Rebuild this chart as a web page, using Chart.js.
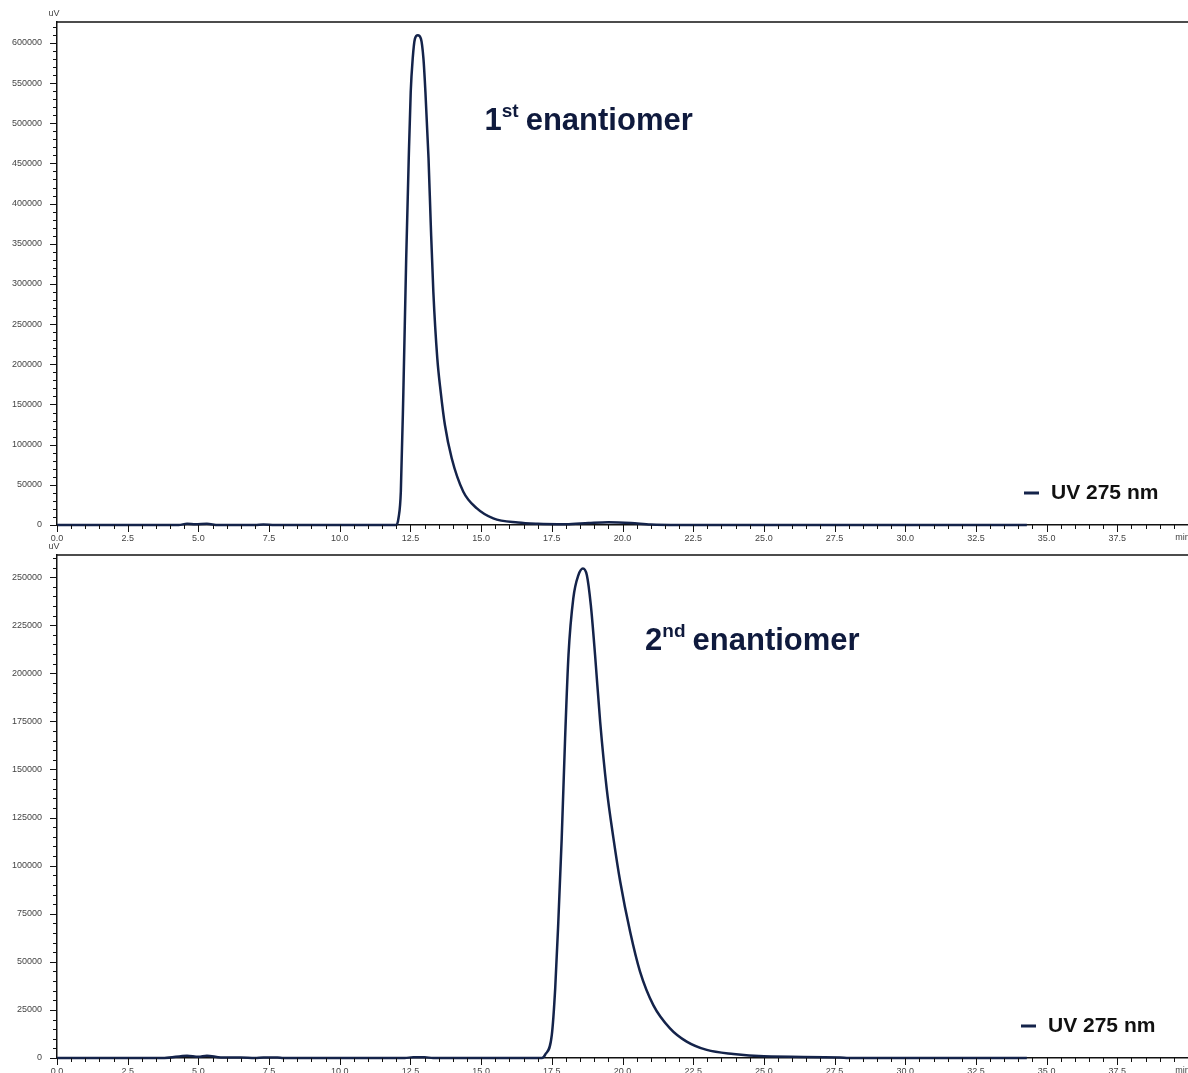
<!DOCTYPE html>
<html>
<head>
<meta charset="utf-8">
<script src="https://cdn.jsdelivr.net/npm/chart.js@4.4.1/dist/chart.umd.min.js"></script>
<style>
  body { margin: 0; background: #fff; overflow: hidden; }
  canvas { display: block; position: absolute; left: 0; }
  #chartTop { top: 0; }
  #chartBottom { top: 538px; }
</style>
</head>
<body>
<canvas id="chartTop" width="1188" height="545"></canvas>
<canvas id="chartBottom" width="1188" height="535"></canvas>
<script>
// Chromatogramme 1 : 1er énantiomère (temps en min, signal en uV)
const time1 = [0, 4.3, 4.6, 4.9, 5.3, 5.7, 7.0, 7.3, 7.7, 12.0, 12.08, 12.16, 12.25, 12.35, 12.44, 12.51, 12.58, 12.66, 12.76,
  12.87, 12.96, 13.03, 13.14, 13.22, 13.31, 13.45, 13.57, 13.72, 13.96, 14.37, 14.85, 15.43, 16.3, 17.0, 18.0, 18.8, 19.5,
  20.3, 21.0, 22.0, 34.3];
const uv1 = [0, 0, 1500, 800, 1500, 0, 0, 600, 0, 0, 9000, 41400, 165800, 331700, 456100, 538900, 580400, 605300, 609500,
  605300, 580400, 538900, 456100, 373100, 290200, 207300, 165800, 124400, 83000, 41400, 20700, 8300, 3000, 1500, 1000, 2500, 3500,
  2500, 500, 0, 0];

// Chromatogramme 2 : 2ème énantiomère
const time2 = [0, 3.8, 4.6, 5.0, 5.3, 5.8, 6.5, 7.0, 7.3, 7.8, 8.0, 12.3, 12.6, 13.0, 13.3, 17.15, 17.26, 17.50, 17.62,
  17.73, 17.85, 17.97, 18.09, 18.26, 18.44, 18.60, 18.74, 18.88, 19.03, 19.21, 19.44, 19.68, 19.92, 20.27, 20.62, 21.09,
  21.68, 22.27, 22.98, 23.92, 25.0, 27.7, 28.0, 34.3];
const uv2 = [0, 0, 1200, 600, 1200, 300, 300, 0, 300, 300, 0, 0, 400, 400, 0, 0, 1600, 12000, 36200,
  70800, 114200, 166200, 209500, 238900, 251000, 254500, 251000, 235400, 209500, 174800, 140200, 114200, 91600, 65600, 44900, 27500,
  15400, 8500, 4200, 2100, 900, 300, 0, 0];

// graduations
const xTicks = [0, 2.5, 5, 7.5, 10, 12.5, 15, 17.5, 20, 22.5, 25, 27.5, 30, 32.5, 35, 37.5, 40];
const yTicks1 = [0, 50000, 100000, 150000, 200000, 250000, 300000, 350000, 400000, 450000, 500000, 550000, 600000];
const yTicks2 = [0, 25000, 50000, 75000, 100000, 125000, 150000, 175000, 200000, 225000, 250000];

const seriesName = 'UV 275 nm';
const FONT = "'Liberation Sans', Arial, sans-serif";
const NAVY = '#14234a';
const NONE = 'rgba(0,0,0,0)';

// dessine les petites graduations, le cadre, la légende et les annotations
const chromPlugin = {
  id: 'chrom',
  afterDraw(chart, args, opts) {
    const ctx = chart.ctx;
    const a = chart.chartArea;
    const xs = chart.scales.x, ys = chart.scales.y;
    ctx.save();
    ctx.strokeStyle = '#111';
    ctx.lineWidth = 1.5;
    ctx.beginPath();
    ctx.moveTo(a.left, a.top);
    ctx.lineTo(chart.width, a.top);
    ctx.stroke();

    ctx.lineWidth = 1;
    for (let i = 0; i * 0.5 <= xs.max + 1e-9; i++) {
      const px = Math.round(xs.getPixelForValue(i * 0.5)) + 0.5;
      const len = i % 5 === 0 ? 7 : 4;
      ctx.beginPath();
      ctx.moveTo(px, a.bottom);
      ctx.lineTo(px, a.bottom + len);
      ctx.stroke();
    }
    for (let i = 0; i * opts.minorY <= ys.max; i++) {
      const py = Math.round(ys.getPixelForValue(i * opts.minorY)) + 0.5;
      const len = i % 5 === 0 ? 7 : 4;
      ctx.beginPath();
      ctx.moveTo(a.left, py);
      ctx.lineTo(a.left - len, py);
      ctx.stroke();
    }

    // unités
    ctx.fillStyle = '#444';
    ctx.font = '9px ' + FONT;
    ctx.textAlign = 'center';
    ctx.textBaseline = 'middle';
    ctx.fillText('uV', a.left - 3, a.top - 8);
    ctx.textAlign = 'left';
    ctx.textBaseline = 'top';
    ctx.fillText('min', xs.getPixelForValue(39.55), a.bottom + 8);

    // légende
    ctx.fillStyle = NAVY;
    ctx.fillRect(opts.legendX, a.bottom - 33.5, 15, 3);
    ctx.fillStyle = '#111';
    ctx.font = 'bold 21px ' + FONT;
    ctx.textBaseline = 'alphabetic';
    ctx.fillText(chart.data.datasets[0].label, opts.legendX + 27, a.bottom - 26);

    // annotation du pic
    const n = opts.note;
    let px = xs.getPixelForValue(n.x);
    const base = ys.getPixelForValue(n.y);
    ctx.fillStyle = '#0f1a3d';
    ctx.font = 'bold 31px ' + FONT;
    ctx.fillText(n.main, px, base);
    px += ctx.measureText(n.main).width;
    ctx.font = 'bold 19px ' + FONT;
    ctx.fillText(n.sup, px, base - 13);
    px += ctx.measureText(n.sup).width + 7;
    ctx.font = 'bold 31px ' + FONT;
    ctx.fillText(n.rest, px, base);
    ctx.restore();
  }
};

function makeChart(id, times, values, yTicks, yMax, minorY, topPad, xHeight, legendX, note) {
  const points = times.map((t, i) => ({ x: t, y: values[i] }));
  return new Chart(document.getElementById(id), {
    type: 'line',
    data: {
      datasets: [{
        label: seriesName,
        data: points,
        borderColor: NAVY,
        borderWidth: 2.5,
        pointRadius: 0,
        fill: false,
        cubicInterpolationMode: 'monotone',
        clip: false
      }]
    },
    options: {
      responsive: false,
      animation: false,
      devicePixelRatio: 1,
      layout: { padding: { top: topPad, right: 0, left: 0, bottom: 0 } },
      plugins: {
        legend: { display: false },
        tooltip: { enabled: false },
        chrom: { minorY: minorY, legendX: legendX, note: note }
      },
      scales: {
        x: {
          type: 'linear',
          min: 0,
          max: 40,
          afterBuildTicks: s => { s.ticks = xTicks.map(v => ({ value: v })); },
          afterFit: s => { s.height = xHeight; },
          grid: { display: true, drawOnChartArea: false, drawTicks: true, tickLength: 8, color: NONE, tickColor: NONE },
          border: { display: true, color: '#111', width: 1.5 },
          ticks: {
            autoSkip: false,
            maxRotation: 0,
            padding: 0,
            color: '#444',
            font: { size: 9, family: FONT },
            callback: v => (v >= 40 ? '' : v.toFixed(1))
          }
        },
        y: {
          min: 0,
          max: yMax,
          afterBuildTicks: s => { s.ticks = yTicks.map(v => ({ value: v })); },
          afterFit: s => { s.width = 57; },
          grid: { display: true, drawOnChartArea: false, drawTicks: true, tickLength: 15, color: NONE, tickColor: NONE },
          border: { display: true, color: '#111', width: 1.5 },
          ticks: {
            padding: 0,
            color: '#444',
            font: { size: 9, family: FONT },
            callback: v => String(v)
          }
        }
      }
    },
    plugins: [chromPlugin]
  });
}

makeChart('chartTop', time1, uv1, yTicks1, 626000, 10000, 22, 20, 1024,
  { x: 15.12, y: 491000, main: '1', sup: 'st', rest: 'enantiomer' });
makeChart('chartBottom', time2, uv2, yTicks2, 261500, 5000, 17, 15, 1021,
  { x: 20.8, y: 212000, main: '2', sup: 'nd', rest: 'enantiomer' });
</script>
</body>
</html>
